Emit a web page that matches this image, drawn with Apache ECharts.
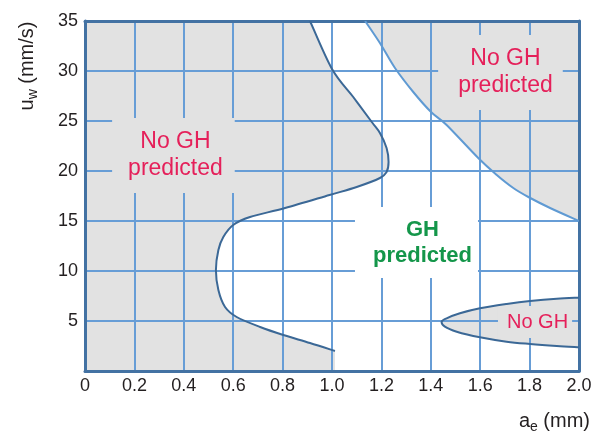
<!DOCTYPE html>
<html>
<head>
<meta charset="utf-8">
<script src="https://cdn.jsdelivr.net/npm/echarts@6/dist/echarts.min.js"></script>
<style>
  html, body { margin: 0; padding: 0; background: #fff; }
  #chart { width: 601px; height: 433px; }
</style>
</head>
<body>
<div id="chart"></div>
<script>
// boundary curves, [a_e (mm), u_w (mm/s)]
var leftBoundary = [
  [0.911, 35], [1.0, 30.2], [1.086, 27.4], [1.161, 24.9], [1.194, 23.8],
  [1.221, 22.3], [1.229, 20.9], [1.221, 19.9], [1.194, 19.3], [1.1, 18.4],
  [0.99, 17.6], [0.81, 16.3], [0.668, 15.4], [0.60, 14.6], [0.56, 13.4],
  [0.54, 12.1], [0.53, 10.1], [0.54, 8.1], [0.567, 6.4], [0.614, 5.4],
  [0.709, 4.4], [0.803, 3.6], [0.911, 2.8], [1.012, 2.0]
];
var leftFoot = [[1.012, 0]];
var lightBoundary = [
  [1.134, 35], [1.194, 32.8], [1.255, 30.3], [1.329, 27.9], [1.401, 25.9],
  [1.464, 24.6], [1.592, 21.3], [1.667, 19.6], [1.734, 18.3], [1.795, 17.4],
  [1.883, 16.3], [2.0, 15.0]
];
var pocketBoundary = [
  [2.0, 2.37], [1.91, 2.5], [1.802, 2.7], [1.707, 2.93], [1.599, 3.37],
  [1.505, 3.93], [1.457, 4.43], [1.444, 4.93], [1.464, 5.27], [1.518, 5.77],
  [1.599, 6.27], [1.707, 6.7], [1.802, 7.0], [1.91, 7.23], [2.0, 7.33]
];

var labelText = ['No GH\npredicted', 'No GH\npredicted', 'GH\npredicted', 'No GH'];
var labelAt = [[0.358, 21.55], [1.682, 29.85], [1.342, 12.85], [1.822, 4.9]];

var FONT = 'Liberation Sans, Arial, Helvetica, sans-serif';
var gridColor = '#679dd6';
var frameColor = '#4372a3';
var darkCurve = '#3b6896';
var lightCurve = '#5f9ad3';
var red = '#e5205a';
var green = '#14964a';
var gray = '#e2e2e2';

var dom = document.getElementById('chart');
var myChart = echarts.init(dom);

function fmt(p) { return p[0].toFixed(2) + ' ' + p[1].toFixed(2); }

// smooth curve through the points (catmull-rom as cubic beziers)
function curveSegs(p) {
  var s = '';
  for (var i = 0; i < p.length - 1; i++) {
    var p0 = p[i - 1] || p[i], p1 = p[i], p2 = p[i + 1], p3 = p[i + 2] || p[i + 1];
    var c1 = [p1[0] + (p2[0] - p0[0]) / 6, p1[1] + (p2[1] - p0[1]) / 6];
    var c2 = [p2[0] - (p3[0] - p1[0]) / 6, p2[1] - (p3[1] - p1[1]) / 6];
    s += ' C' + fmt(c1) + ' ' + fmt(c2) + ' ' + fmt(p2);
  }
  return s;
}

function toPx(api, arr) {
  return arr.map(function (d) { return api.coord(d); });
}

var labelStyles = [
  { color: red, fontSize: 23, lineHeight: 27, backgroundColor: gray, padding: [9, 12, 12, 16] },
  { color: red, fontSize: 23, lineHeight: 27, backgroundColor: gray, padding: [10, 10, 11, 20] },
  { color: green, fontSize: 22, fontWeight: 'bold', lineHeight: 26, backgroundColor: '#fff', padding: [7, 6, 12, 18] },
  { color: red, fontSize: 20, lineHeight: 22, backgroundColor: gray, padding: [3, 4, 7, 9] }
];

var labelData = labelText.map(function (t, i) {
  return {
    value: labelAt[i],
    label: Object.assign({ show: true, position: 'inside', formatter: t, fontFamily: FONT, align: 'center' }, labelStyles[i])
  };
});

var axisLabelStyle = { fontSize: 18, color: '#231f20', fontFamily: FONT };
var nameRich = {
  a: { fontSize: 20, lineHeight: 26, fontFamily: FONT, fill: '#231f20' },
  s: { fontSize: 14, lineHeight: 14, verticalAlign: 'bottom', fontFamily: FONT, fill: '#231f20' }
};

option = {
  animation: false,
  grid: { left: 85, top: 21, right: 22, bottom: 62, show: true, backgroundColor: gray, borderWidth: 0 },
  xAxis: [
    {
      type: 'value', min: 0, max: 2, interval: 0.2, z: 2,
      axisLine: { show: true, onZero: false, lineStyle: { color: frameColor, width: 3 } },
      axisTick: { show: false },
      axisLabel: Object.assign({ margin: 6, formatter: function (v) { return v === 0 ? '0' : v.toFixed(1); } }, axisLabelStyle),
      splitLine: { show: true, showMinLine: false, showMaxLine: false, lineStyle: { color: gridColor, width: 2 } }
    },
    {
      type: 'value', min: 0, max: 2, position: 'top', z: 3,
      axisLine: { show: true, onZero: false, lineStyle: { color: frameColor, width: 3 } },
      axisTick: { show: false }, axisLabel: { show: false }, splitLine: { show: false }
    }
  ],
  yAxis: [
    {
      type: 'value', min: 0, max: 35, interval: 5, z: 2,
      axisLine: { show: true, onZero: false, lineStyle: { color: frameColor, width: 3 } },
      axisTick: { show: false },
      axisLabel: Object.assign({ margin: 7, formatter: function (v) { return v === 0 ? '' : String(v); } }, axisLabelStyle),
      splitLine: { show: true, showMinLine: false, showMaxLine: false, lineStyle: { color: gridColor, width: 2 } }
    },
    {
      type: 'value', min: 0, max: 35, position: 'right', z: 3,
      axisLine: { show: true, onZero: false, lineStyle: { color: frameColor, width: 3 } },
      axisTick: { show: false }, axisLabel: { show: false }, splitLine: { show: false }
    }
  ],
  graphic: [
    {
      type: 'text', x: 27, y: 66, rotation: Math.PI / 2, silent: true,
      style: { text: '{a|u}{s|w}{a| (mm/s)}', align: 'center', verticalAlign: 'middle', rich: nameRich }
    },
    {
      type: 'text', x: 590, y: 421, silent: true,
      style: { text: '{a|a}{s|e}{a| (mm)}', align: 'right', verticalAlign: 'middle', rich: nameRich }
    }
  ],
  series: [
    {
      // white "GH predicted" region, the rest of the plot stays gray
      type: 'custom', z: 1, silent: true, clip: true,
      data: [[0, 0]],
      renderItem: function (params, api) {
        var L = toPx(api, leftBoundary);
        var R = toPx(api, lightBoundary.slice().reverse());
        var P = toPx(api, pocketBoundary);
        var d = 'M' + fmt(L[0]) + curveSegs(L) +
          ' L' + fmt(api.coord(leftFoot[0])) +
          ' L' + fmt(api.coord([2, 0])) +
          ' L' + fmt(P[0]) + curveSegs(P) +
          ' L' + fmt(R[0]) + curveSegs(R) + ' Z';
        return { type: 'path', shape: { pathData: d }, style: { fill: '#fff', stroke: 'none' } };
      }
    },
    {
      type: 'scatter', z: 3, silent: true, symbolSize: 1,
      itemStyle: { color: 'rgba(0,0,0,0)', opacity: 1 },
      data: labelData
    },
    {
      type: 'custom', z: 4, silent: true, clip: true,
      data: [[0, 0]],
      renderItem: function (params, api) {
        var L = toPx(api, leftBoundary);
        var R = toPx(api, lightBoundary);
        var P = toPx(api, pocketBoundary);
        return {
          type: 'group',
          children: [
            { type: 'path', shape: { pathData: 'M' + fmt(L[0]) + curveSegs(L) }, style: { fill: 'none', stroke: darkCurve, lineWidth: 2 } },
            { type: 'path', shape: { pathData: 'M' + fmt(R[0]) + curveSegs(R) }, style: { fill: 'none', stroke: lightCurve, lineWidth: 2 } },
            { type: 'path', shape: { pathData: 'M' + fmt(P[0]) + curveSegs(P) }, style: { fill: 'none', stroke: darkCurve, lineWidth: 2 } }
          ]
        };
      }
    }
  ]
};

if (option && typeof option === 'object') {
  myChart.setOption(option, true);
}
</script>
</body>
</html>
